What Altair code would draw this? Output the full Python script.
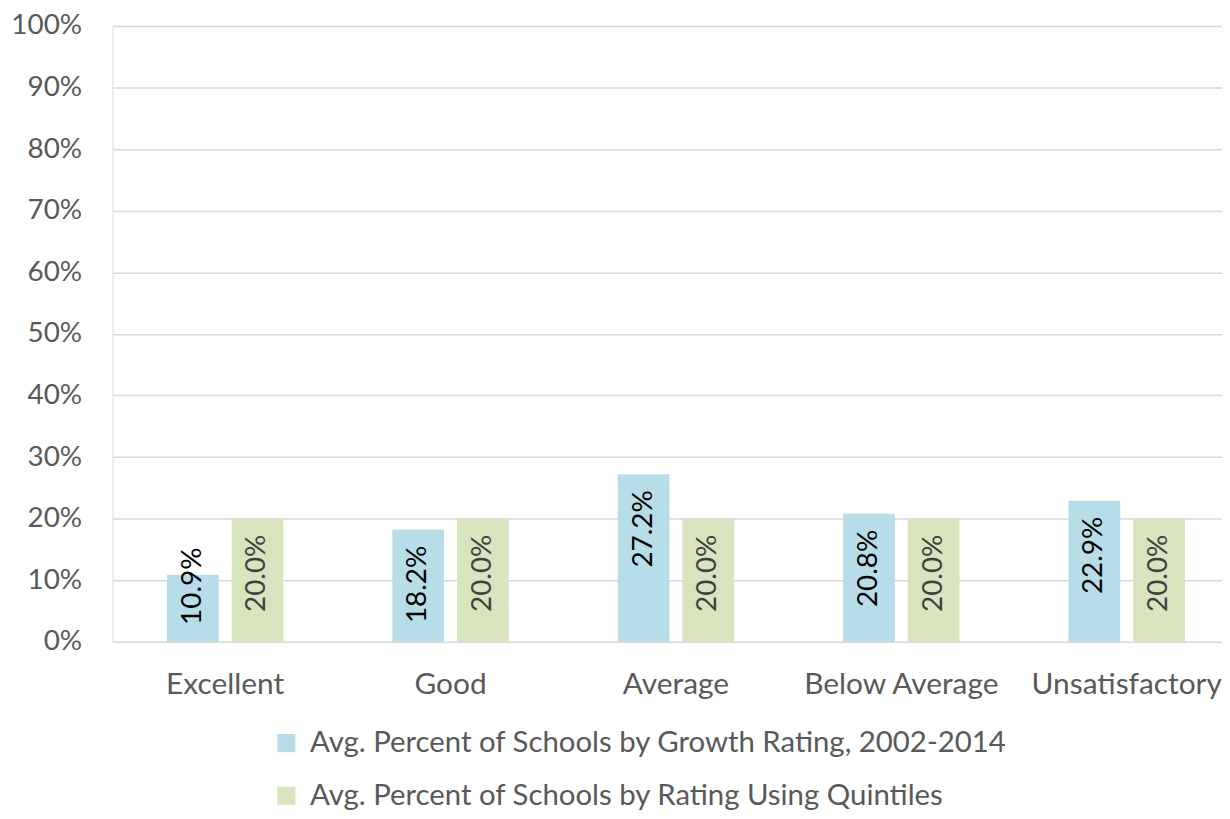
import altair as alt
import pandas as pd

categories = ["Excellent", "Good", "Average", "Below Average", "Unsatisfactory"]
growth_values = [0.109, 0.182, 0.272, 0.208, 0.229]
quintile_values = [0.200, 0.200, 0.200, 0.200, 0.200]
series_names = [
    "Avg. Percent of Schools by Growth Rating, 2002-2014",
    "Avg. Percent of Schools by Rating Using Quintiles",
]
y_ticks = [i / 10 for i in range(11)]

rows = []
for c, v in zip(categories, growth_values):
    rows.append({"category": c, "series": series_names[0], "value": v})
for c, v in zip(categories, quintile_values):
    rows.append({"category": c, "series": series_names[1], "value": v})
df = pd.DataFrame(rows)

FONT = "Lato"
band_step = 226.5

x_enc = alt.X(
    "category:N",
    sort=categories,
    scale=alt.Scale(range=[0, band_step * 5], paddingInner=0.4834,
                    paddingOuter=0.2417, round=False),
    axis=alt.Axis(
        title=None, labelAngle=0, labelFontSize=30, labelColor="#595959",
        labelFont=FONT, domain=False, ticks=False, labelPadding=28, grid=False,
        labelLimit=400,
    ),
)
xoff = alt.XOffset("series:N", sort=series_names,
                   scale=alt.Scale(paddingInner=0.2, paddingOuter=0, round=False))
y_enc = alt.Y(
    "value:Q",
    scale=alt.Scale(domain=[0, 1], nice=False),
    axis=alt.Axis(
        title=None, format=".0%", values=y_ticks, labelFontSize=28,
        labelColor="#595959", labelFont=FONT, domain=False, ticks=False,
        labelPadding=31, gridColor="#d9d9d9", gridWidth=1.5,
    ),
)

bars = alt.Chart(df).mark_bar().encode(
    x=x_enc,
    xOffset=xoff,
    y=y_enc,
    color=alt.Color(
        "series:N",
        sort=series_names,
        scale=alt.Scale(domain=series_names, range=["#b7dde8", "#d7e4bd"]),
        legend=alt.Legend(
            title=None, orient="none", legendX=160, legendY=706,
            direction="vertical", symbolType="square", symbolSize=330,
            symbolStrokeWidth=0, labelFontSize=29.5, labelFont=FONT,
            labelColor="#595959", rowPadding=22, labelOffset=9, padding=0,
            labelLimit=900,
        ),
    ),
)

labels = alt.Chart(df).transform_calculate(
    label_y="max(datum.value, 0.179)"
).mark_text(
    angle=270, align="right", baseline="middle", dx=-16,
    fontSize=28, font=FONT,
).encode(
    x=alt.X("category:N", sort=categories),
    xOffset=alt.XOffset("series:N", sort=series_names),
    y=alt.Y("label_y:Q"),
    text=alt.Text("value:Q", format=".1%"),
    color=alt.condition(
        alt.datum.series == series_names[0], alt.value("#000000"), alt.value("#404040")
    ),
)

chart = alt.layer(bars, labels).properties(
    width=1115, height=619,
    autosize=alt.AutoSizeParams(type="none"),
    padding={"left": 105, "top": 16, "right": 0, "bottom": 168},
).configure_view(stroke=None).configure(background="white")

chart.save("out.html", embed_options={"renderer": "svg", "actions": False})
